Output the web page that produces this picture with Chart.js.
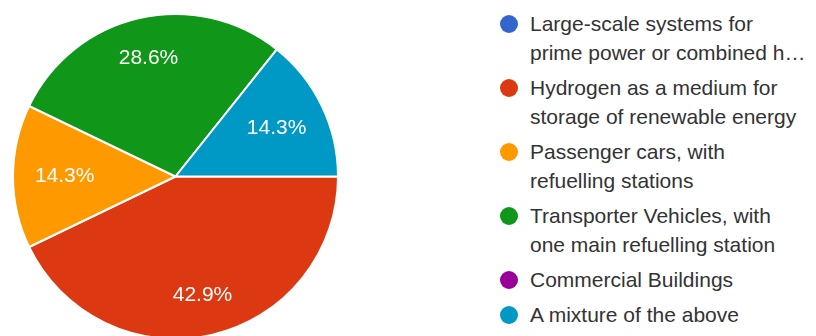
<!DOCTYPE html>
<html>
<head>
<meta charset="utf-8">
<script src="https://cdn.jsdelivr.net/npm/chart.js@4.4.1/dist/chart.umd.min.js"></script>
<style>
    html, body {
        margin: 0;
        padding: 0;
        width: 816px;
        height: 336px;
        overflow: hidden;
        background: #ffffff;
        font-family: Arial, "Liberation Sans", sans-serif;
    }
    #pie-wrap {
        position: absolute;
        left: 12px;
        top: 13px;
        width: 327px;
        height: 327px;
    }
    #legend {
        position: absolute;
        left: 500px;
        top: 9px;
        margin: 0;
        padding: 0;
        list-style: none;
    }
    #legend li {
        display: flex;
        align-items: flex-start;
        margin-bottom: 6px;
        font-size: 21px;
        line-height: 29px;
        color: #333333;
    }
    #legend .dot {
        flex: none;
        width: 18px;
        height: 18px;
        border-radius: 50%;
        margin-top: 5.5px;
        margin-right: 12px;
    }
</style>
</head>
<body>
<div id="pie-wrap"><canvas id="pie-chart"></canvas></div>
<ul id="legend"></ul>

<script>
// Survey answers (response counts, 7 responses in total)
const answerLabels = [
    ['Large-scale systems for', 'prime power or combined h\u2026'],
    ['Hydrogen as a medium for', 'storage of renewable energy'],
    ['Passenger cars, with', 'refuelling stations'],
    ['Transporter Vehicles, with', 'one main refuelling station'],
    ['Commercial Buildings'],
    ['A mixture of the above']
];
const answerCounts = [0, 3, 1, 2, 0, 1];
const sliceColors = ['#3366cc', '#dc3912', '#ff9900', '#109618', '#990099', '#0099c6'];

// Build the legend on the right
function buildLegend() {
    const list = document.getElementById('legend');
    list.innerHTML = answerLabels.map((lines, i) => `
        <li>
            <span class="dot" style="background:${sliceColors[i]}"></span>
            <span>${lines.join('<br>')}</span>
        </li>
    `).join('');
}

// Percent labels inside the slices
const sliceLabels = {
    id: 'sliceLabels',
    afterDatasetsDraw(chart) {
        const ctx = chart.ctx;
        const meta = chart.getDatasetMeta(0);
        const data = chart.data.datasets[0].data;
        const total = data.reduce((a, b) => a + b, 0);

        ctx.save();
        ctx.font = '21px Arial, "Liberation Sans", sans-serif';
        ctx.fillStyle = '#ffffff';
        ctx.textAlign = 'center';
        ctx.textBaseline = 'middle';

        meta.data.forEach((arc, i) => {
            if (!data[i]) return;
            const p = arc.getProps(['x', 'y', 'startAngle', 'endAngle', 'outerRadius'], true);
            const mid = (p.startAngle + p.endAngle) / 2;
            // sideways labels sit a bit closer to the centre
            const dist = p.outerRadius * 0.765 - 13.5 * Math.abs(Math.cos(mid));
            const x = p.x + Math.cos(mid) * dist;
            const y = p.y + Math.sin(mid) * dist;
            ctx.fillText((data[i] / total * 100).toFixed(1) + '%', x, y);
        });
        ctx.restore();
    }
};

function drawPie() {
    const ctx = document.getElementById('pie-chart');
    new Chart(ctx, {
        type: 'pie',
        data: {
            labels: answerLabels.map(l => l.join(' ')),
            datasets: [{
                data: answerCounts,
                backgroundColor: sliceColors,
                borderColor: '#ffffff',
                borderWidth: 2
            }]
        },
        options: {
            responsive: true,
            maintainAspectRatio: false,
            animation: false,
            rotation: 90,
            layout: { padding: 0 },
            plugins: {
                legend: { display: false },
                tooltip: { enabled: false }
            }
        },
        plugins: [sliceLabels]
    });
}

document.addEventListener('DOMContentLoaded', () => {
    buildLegend();
    drawPie();
});
</script>
</body>
</html>
